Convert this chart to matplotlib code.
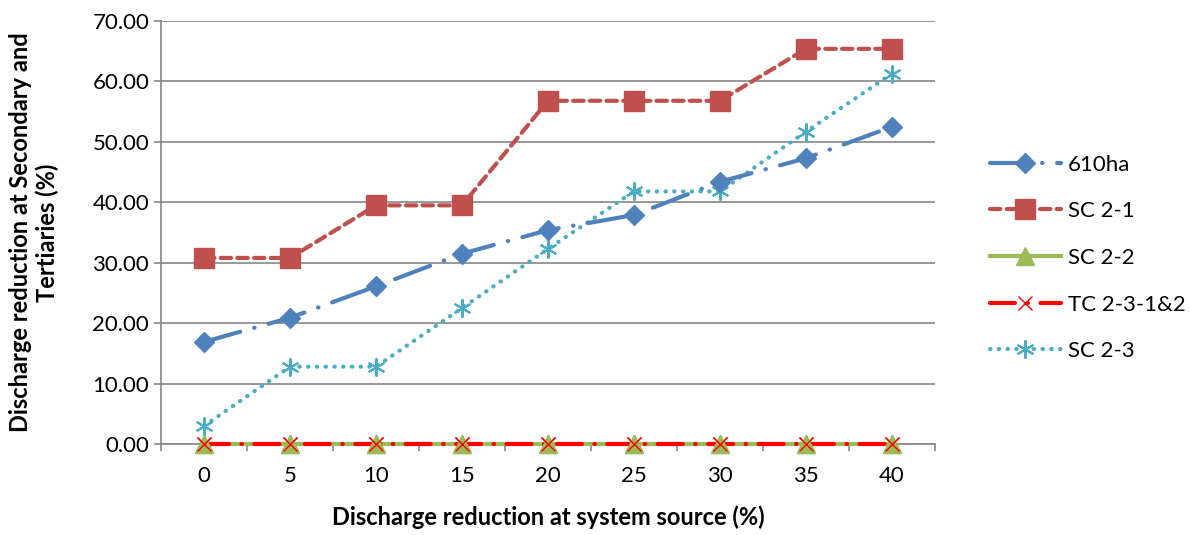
import matplotlib

matplotlib.use("Agg")

import matplotlib.pyplot as plt
from matplotlib.ticker import FixedLocator, FormatStrFormatter

plt.rcParams["font.family"] = ["Lato", "DejaVu Sans"]

categories = ["0", "5", "10", "15", "20", "25", "30", "35", "40"]
ha610 = [16.9, 20.9, 26.1, 31.5, 35.4, 37.9, 43.4, 47.3, 52.5]
sc21 = [30.8, 30.8, 39.5, 39.5, 56.8, 56.8, 56.8, 65.4, 65.4]
sc22 = [0, 0, 0, 0, 0, 0, 0, 0, 0]
tc231 = [0, 0, 0, 0, 0, 0, 0, 0, 0]
sc23 = [3.0, 12.8, 12.8, 22.5, 32.3, 41.8, 41.8, 51.7, 61.3]

fig = plt.figure(figsize=(11.9, 5.35), dpi=100)
ax = fig.add_axes([0.1353, 0.170, 0.6504, 0.7907])
x = list(range(len(categories)))

green, red = "#9BBB59", "#FF0000"
ax.plot(x, sc22, color=green, lw=3, marker="^", ms=13, label="SC 2-2",
        zorder=3, clip_on=False)
ax.plot(x, tc231, color=red, lw=3, linestyle=(0, (6, 3, 0.1, 3)),
        dash_capstyle="round", marker="x", ms=10, mew=1.0, label="TC 2-3-1&2",
        zorder=4, clip_on=False)
# markers on the zero line drawn again so triangles sit above the red dashes
ax.plot(x, sc22, ls="none", color=green, marker="^", ms=13, zorder=4.2, clip_on=False)
ax.plot(x, tc231, ls="none", color=red, marker="x", ms=10, mew=1.0, zorder=4.3, clip_on=False)

ax.plot(x, sc23, color="#4BACC6", lw=3, linestyle=(0, (0.1, 2)), dash_capstyle="round",
        marker=(6, 2, 0), ms=13, mew=1.5, label="SC 2-3", zorder=5)
ax.plot(x, ha610, color="#4F81BD", lw=3, linestyle=(0, (9, 3.5, 0.1, 3.5)),
        dash_capstyle="round", marker="D", ms=10, label="610ha", zorder=6)
ax.plot(x, sc21, color="#C0504D", lw=3, linestyle=(0, (2.5, 1.5)),
        dash_capstyle="round", marker="s", ms=14, label="SC 2-1", zorder=7)

ax.set_xlim(-0.5, len(categories) - 0.5)
ax.set_ylim(0, 70)
ax.set_xticks(x)
ax.set_xticklabels(categories)
ax.xaxis.set_minor_locator(FixedLocator([i + 0.5 for i in range(-1, len(categories))]))
ax.set_yticks(range(0, 71, 10))
ax.yaxis.set_major_formatter(FormatStrFormatter("%.2f"))

ax.tick_params(axis="x", which="major", length=0, labelsize=16, pad=16, labelcolor="black")
ax.tick_params(axis="x", which="minor", length=5, width=1.2, color="#868686")
ax.tick_params(axis="y", length=5, width=1.2, color="#868686", labelsize=16, labelcolor="black")

ax.grid(axis="y", color="#868686", lw=1.2)
ax.set_axisbelow(True)
for side in ("top", "right"):
    ax.spines[side].set_visible(False)
for side in ("left", "bottom"):
    ax.spines[side].set_color("#868686")
    ax.spines[side].set_linewidth(1.2)

ax.set_xlabel("Discharge reduction at system source (%)", fontsize=17, fontweight="bold", labelpad=14)
ax.set_ylabel("Discharge reduction at Secondary and\nTertiaries (%)", fontsize=17,
              fontweight="bold", labelpad=24)

handles, labels = ax.get_legend_handles_labels()
order = ["610ha", "SC 2-1", "SC 2-2", "TC 2-3-1&2", "SC 2-3"]
idx = [labels.index(o) for o in order]
ax.legend([handles[i] for i in idx], [labels[i] for i in idx], loc="center left",
          bbox_to_anchor=(1.045, 0.44), frameon=False, fontsize=16, handlelength=3.2,
          handletextpad=0.3, labelspacing=1.2)

fig.savefig("out.png", dpi=100)
